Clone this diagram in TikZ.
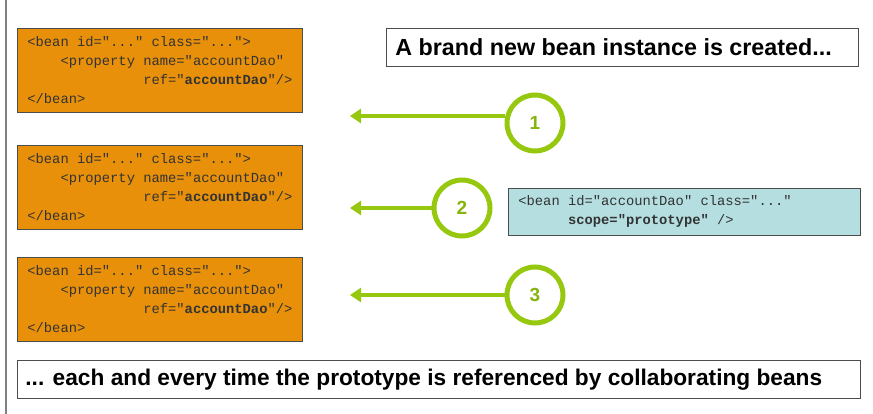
\documentclass[tikz,border=0pt]{standalone}
\usepackage{fontspec}
\setmainfont{Liberation Sans}
\setmonofont{Liberation Mono}
\usetikzlibrary{arrows.meta}
\definecolor{orangebox}{HTML}{E8900A}
\definecolor{bluebox}{HTML}{B4DEE0}
\definecolor{lime}{HTML}{95C80E}
\newcommand\cl[2][265pt]{\makebox[#1][l]{#2}}
\begin{document}
\begin{tikzpicture}[x=1pt,y=-1pt,
  code/.style={draw=black!70,line width=0.8pt,fill=orangebox,anchor=north west,minimum height=84pt,inner xsep=10pt,inner ysep=6pt,align=left,font=\ttfamily\fontsize{13.8}{19}\selectfont,text=black!80},
  blue/.style={code,fill=bluebox,minimum height=47pt},
  head/.style={draw=black!70,line width=0.8pt,fill=white,anchor=north west,minimum height=38pt,inner xsep=9pt,align=left,font=\bfseries\fontsize{23.3}{24}\selectfont},
  num/.style={circle,draw=lime,line width=5pt,fill=white,minimum size=56pt,font=\bfseries\fontsize{19}{20}\selectfont,text=lime!90!black},
  arr/.style={draw=lime,line width=4pt,-{Triangle[length=11pt,width=14pt]}}]
\useasboundingbox (0,0) rectangle (873,414);
\draw[black!50,line width=1.5pt] (6,0) -- (6,414);
\def\beantext{\cl{<bean id="..." class="...">}\\\cl{\phantom{xxxx}<property name="accountDao"}\\\cl{\phantom{xxxxxxxxxxxxxx}ref="\textbf{accountDao}"/>}\\\cl{</bean>}}
\node[code] (b1) at (17,28) {\beantext};
\node[code] (b2) at (17,145) {\beantext};
\node[code] (b3) at (17,257) {\beantext};
\node[head] (t) at (386,28) {\makebox[454pt][l]{A brand new bean instance is created...}};
\node[blue] (p) at (508,188) {\cl[332pt]{<bean id="accountDao" class="..."}\\\cl[332pt]{\phantom{xxxxxx}\textbf{scope="prototype"} />}};
\node[head,inner xsep=8pt,font=\bfseries\fontsize{22.7}{24}\selectfont] (bt) at (17,360) {\makebox[827pt][l]{... each and every time the prototype is referenced by collaborating beans}};
\node[num] (c1) at (535,123) {1};
\node[num] (c2) at (462,208) {2};
\node[num] (c3) at (535,295) {3};
\coordinate (e1) at (350,116);
\coordinate (e2) at (350,208);
\coordinate (e3) at (350,295);
\draw[arr] (c1.west |- e1) -- (e1);
\draw[arr] (c2.west) -- (e2);
\draw[arr] (c3.west) -- (e3);
\end{tikzpicture}
\end{document}
